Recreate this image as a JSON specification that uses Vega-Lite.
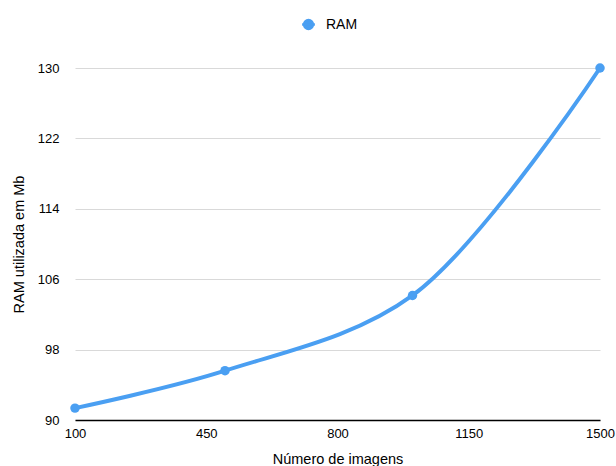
{
  "$schema": "https://vega.github.io/schema/vega-lite/v6.json",
  "width": 525,
  "height": 352,
  "autosize": {"type": "none"},
  "padding": {"left": 75, "top": 68, "right": 16, "bottom": 46},
  "background": "white",
  "config": {
    "view": {"stroke": null},
    "font": "Liberation Sans",
    "axis": {"labelFont": "Liberation Sans", "titleFont": "Liberation Sans", "labelColor": "#000000", "titleColor": "#000000", "labelFontSize": 13, "titleFontSize": 14.5, "titleFontWeight": "normal"}
  },
  "data": {
    "values": [
      {"imagens": 100, "ram": 91.35, "serie": "RAM"},
      {"imagens": 500, "ram": 95.6, "serie": "RAM"},
      {"imagens": 1000, "ram": 104.15, "serie": "RAM"},
      {"imagens": 1500, "ram": 130, "serie": "RAM"}
    ]
  },
  "encoding": {
    "x": {
      "field": "imagens",
      "type": "quantitative",
      "scale": {"domain": [100, 1500], "nice": false, "zero": false},
      "axis": {
        "title": "Número de imagens",
        "values": [100, 450, 800, 1150, 1500],
        "format": "d",
        "grid": false,
        "ticks": false,
        "domainColor": "#000000",
        "domainWidth": 1.5,
        "labelPadding": 7,
        "titlePadding": 12,
        "labelFlush": false
      }
    },
    "y": {
      "field": "ram",
      "type": "quantitative",
      "scale": {"domain": [90, 130], "nice": false, "zero": false},
      "axis": {
        "title": "RAM utilizada em Mb",
        "values": [90, 98, 106, 114, 122, 130],
        "domain": false,
        "ticks": false,
        "gridColor": "#d9d9d9",
        "gridWidth": 1,
        "labelPadding": 16,
        "titlePadding": 11
      }
    },
    "color": {
      "field": "serie",
      "type": "nominal",
      "scale": {"range": ["#4a9ff2"]},
      "legend": {
        "title": null,
        "orient": "none",
        "legendX": 224,
        "legendY": -53,
        "labelFont": "Liberation Sans",
        "labelFontSize": 14,
        "labelColor": "#000000",
        "symbolType": "M-0.8,0L0.8,0M-0.55,0A0.55,0.55,0,1,1,0.55,0A0.55,0.55,0,1,1,-0.55,0Z",
        "symbolSize": 256,
        "symbolStrokeWidth": 2.5,
        "symbolFillColor": "#4a9ff2",
        "symbolStrokeColor": "#4a9ff2",
        "labelOffset": 8
      }
    }
  },
  "layer": [
    {"mark": {"type": "line", "interpolate": "catmull-rom", "strokeWidth": 4}},
    {"mark": {"type": "point", "filled": true, "opacity": 1, "size": 90}}
  ]
}
